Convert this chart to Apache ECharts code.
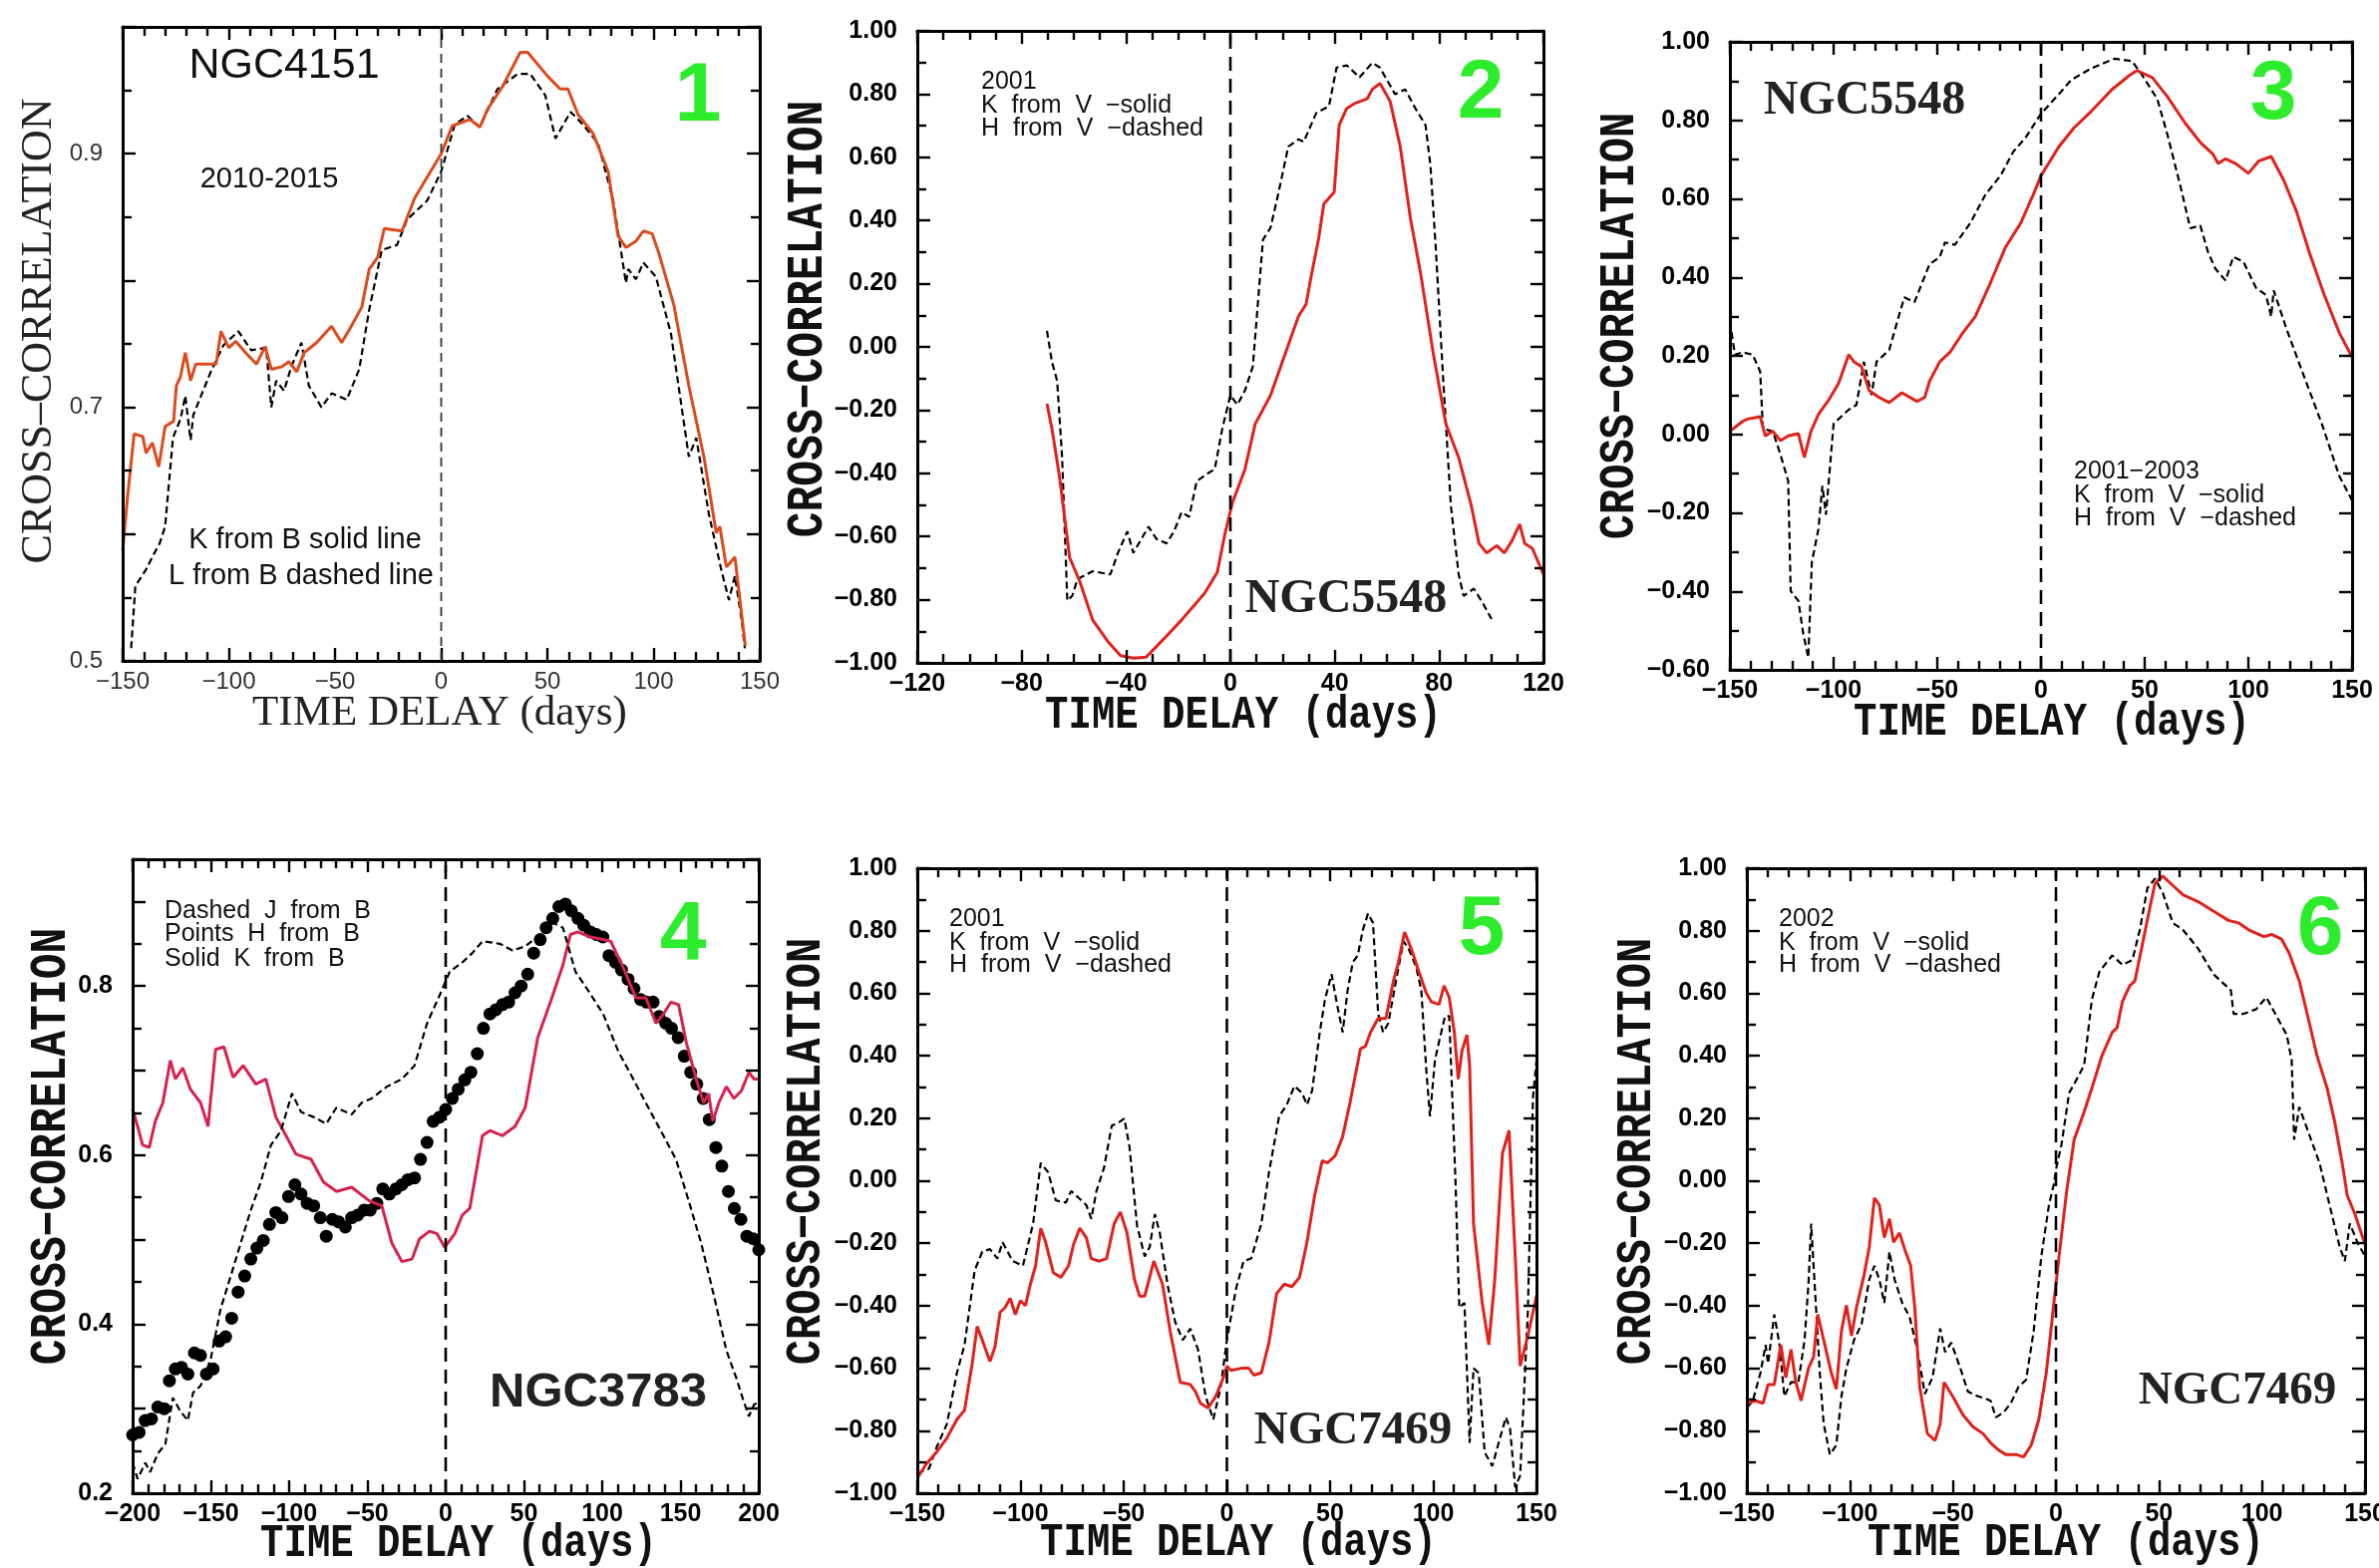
<!DOCTYPE html>
<html>
<head>
<meta charset="utf-8">
<script src="https://cdn.jsdelivr.net/npm/echarts@6/dist/echarts.min.js"></script>
<style>
  html, body { margin: 0; padding: 0; background: #fff; }
  .layer { position: absolute; left: 0; top: 0; width: 2386px; height: 1573px; }
</style>
</head>
<body>
<div id="curves" class="layer"></div>
<div id="frames" class="layer"></div>
<div id="texts" class="layer"></div>
<script>
// ---- data: [time delay (days), cross-correlation] ----

// 1: NGC4151 2010-2015, K from B (solid), L from B (dashed)
const p1K = [[-150,0.587],[-147.6,0.631],[-144.6,0.679],[-140.5,0.677],[-139,0.664],[-136,0.672],[-133,0.653],[-130,0.685],[-126,0.689],[-124.7,0.717],[-122.8,0.724],[-120.5,0.743],[-118,0.721],[-115.6,0.734],[-106,0.734],[-103.7,0.76],[-100,0.747],[-96.7,0.752],[-92,0.743],[-87,0.734],[-82.9,0.748],[-80,0.73],[-75,0.732],[-71.7,0.736],[-68,0.728],[-64.6,0.743],[-58.7,0.751],[-51.6,0.764],[-46.9,0.751],[-43,0.762],[-37.4,0.779],[-33.9,0.809],[-30,0.818],[-26.8,0.841],[-18.5,0.839],[-12.5,0.865],[-4.3,0.888],[0,0.9],[5.2,0.922],[13.5,0.927],[18.2,0.921],[21.8,0.935],[28.9,0.953],[37.2,0.98],[40.7,0.98],[50.2,0.961],[56,0.951],[59.7,0.951],[64.4,0.931],[71.5,0.916],[78.6,0.886],[83.3,0.835],[87,0.826],[91.7,0.831],[95.2,0.839],[99.3,0.837],[102.4,0.822],[109.5,0.781],[116.6,0.717],[123.7,0.661],[129.5,0.601],[131.2,0.606],[134.3,0.574],[138.3,0.582],[140.1,0.556],[143.2,0.512]];
const p1L = [[-146,0.51],[-144,0.559],[-139,0.572],[-136,0.582],[-132.5,0.593],[-130,0.606],[-126.3,0.676],[-122.7,0.691],[-120.5,0.709],[-118,0.674],[-116.7,0.694],[-108.5,0.728],[-102.5,0.749],[-95.5,0.76],[-89.5,0.745],[-82.4,0.747],[-80,0.7],[-77.7,0.721],[-74,0.713],[-70.6,0.732],[-65.8,0.751],[-62.3,0.717],[-56.4,0.7],[-51.6,0.711],[-44.5,0.706],[-38.6,0.73],[-33.9,0.777],[-28,0.824],[-20.8,0.828],[-16.1,0.848],[-6.6,0.863],[0,0.886],[6.4,0.923],[12.3,0.93],[18.2,0.921],[26.5,0.951],[36,0.963],[41.9,0.963],[49,0.946],[53.8,0.912],[60.9,0.933],[66.8,0.923],[73.9,0.908],[81,0.863],[87,0.798],[88.1,0.809],[91.7,0.801],[95.2,0.814],[101.1,0.803],[108.2,0.758],[116.6,0.661],[120.1,0.676],[126,0.616],[132,0.571],[135.5,0.548],[138.3,0.567],[141.4,0.533],[143,0.51]];

// 2: NGC5548 2001, K from V (solid), H from V (dashed)
const p2K = [[-70.3,-0.18],[-68.4,-0.259],[-65.5,-0.41],[-61.6,-0.667],[-57.7,-0.743],[-52.8,-0.864],[-47,-0.932],[-42.1,-0.977],[-37.2,-0.985],[-32.3,-0.982],[-25.5,-0.924],[-18.7,-0.864],[-9.9,-0.78],[-5,-0.713],[-2.1,-0.592],[0.8,-0.493],[5.6,-0.387],[9.5,-0.244],[15.4,-0.153],[21.2,-0.017],[26.1,0.097],[29,0.135],[31,0.225],[33.9,0.346],[35.8,0.452],[39.8,0.49],[41.7,0.702],[44.6,0.755],[47.5,0.77],[52.4,0.785],[54.4,0.815],[57.3,0.834],[61.2,0.778],[65.1,0.634],[69,0.407],[72.9,0.233],[77.7,-0.017],[82.6,-0.244],[87.5,-0.35],[92.3,-0.501],[95.3,-0.622],[98.2,-0.652],[102.1,-0.629],[105,-0.652],[107.9,-0.614],[110.9,-0.561],[112.8,-0.622],[115.7,-0.637],[120,-0.72]];
const p2H = [[-70.3,0.051],[-68.4,-0.047],[-66.4,-0.107],[-64.5,-0.349],[-62.5,-0.803],[-60.6,-0.788],[-58.6,-0.735],[-52.8,-0.71],[-46,-0.72],[-43.1,-0.652],[-39.5,-0.584],[-37.2,-0.652],[-31.4,-0.569],[-28.4,-0.607],[-24.5,-0.622],[-21.6,-0.584],[-18.7,-0.523],[-15.8,-0.538],[-12.9,-0.425],[-9,-0.402],[-6,-0.387],[-3.1,-0.259],[0,-0.153],[2.7,-0.183],[5.6,-0.138],[8.6,-0.062],[12.5,0.339],[15.4,0.377],[18.3,0.483],[22.2,0.634],[26.1,0.657],[28.1,0.649],[32.9,0.74],[37.8,0.762],[40.7,0.884],[44.6,0.891],[49.5,0.853],[54.4,0.899],[57.3,0.884],[63.1,0.8],[67,0.815],[70.9,0.755],[74.8,0.702],[76.7,0.573],[78.7,0.316],[81.6,-0.107],[84.5,-0.501],[87.5,-0.72],[89.4,-0.788],[93.3,-0.765],[96.2,-0.803],[100.1,-0.861]];

// 3: NGC5548 2001-2003
const p3K = [[-150,0.008],[-143.9,0.033],[-141.5,0.039],[-135.4,0.045],[-132.9,-0.004],[-129.3,0.008],[-125.6,-0.016],[-121.9,-0.004],[-117,0.002],[-114.1,-0.059],[-110.9,0.008],[-107.3,0.051],[-102.4,0.087],[-97.6,0.13],[-92.7,0.203],[-90.2,0.185],[-86.6,0.173],[-82.9,0.112],[-78,0.094],[-73.2,0.081],[-67.1,0.106],[-59.8,0.084],[-56.1,0.094],[-53.7,0.136],[-48.8,0.185],[-43.9,0.209],[-37.8,0.258],[-31.7,0.3],[-24.4,0.386],[-17.1,0.477],[-9.8,0.538],[-3.7,0.611],[0,0.659],[8.5,0.732],[15.9,0.781],[24.4,0.824],[34.1,0.878],[42.7,0.915],[46.3,0.927],[53.7,0.909],[61,0.86],[69.5,0.793],[76.8,0.744],[82.9,0.714],[85.4,0.69],[89,0.702],[93.9,0.69],[100,0.665],[104.9,0.696],[111,0.708],[117.1,0.647],[123.2,0.568],[129.3,0.465],[136.6,0.355],[143.9,0.258],[150,0.197]];
const p3H = [[-150,0.288],[-147.6,0.203],[-143.9,0.209],[-139,0.203],[-135.4,0.16],[-134.1,0.014],[-129.3,0.008],[-125.6,-0.052],[-121.9,-0.119],[-120.7,-0.399],[-117,-0.424],[-114.6,-0.509],[-112.2,-0.569],[-110.5,-0.326],[-107.3,-0.241],[-105.4,-0.131],[-103.7,-0.205],[-100,0.027],[-97.6,0.039],[-92.7,0.063],[-89,0.075],[-85.4,0.185],[-81.7,0.1],[-79.3,0.185],[-73.2,0.215],[-68.3,0.306],[-65.9,0.349],[-61,0.337],[-53.7,0.434],[-48.8,0.452],[-46.3,0.489],[-41.5,0.483],[-34.1,0.538],[-26.8,0.611],[-19.5,0.659],[-13.4,0.72],[-7.3,0.757],[0,0.817],[8.5,0.866],[14.6,0.903],[24.4,0.933],[35.4,0.957],[43.9,0.951],[48.8,0.915],[56.1,0.854],[61,0.763],[67.1,0.635],[72,0.525],[76.8,0.532],[80.5,0.465],[84.1,0.422],[89,0.392],[92.7,0.452],[97.6,0.44],[103.7,0.373],[108.5,0.355],[111,0.3],[112.2,0.367],[118.3,0.27],[126.8,0.148],[135.4,0.027],[143.9,-0.107],[150,-0.168]];

// 4: NGC3783, K from B (solid), J from B (dashed), H from B (points)
const p4K = [[-200,0.654],[-196.8,0.634],[-193.6,0.612],[-189.4,0.609],[-185.5,0.64],[-180.7,0.662],[-175.9,0.712],[-172.7,0.69],[-167.9,0.703],[-163.1,0.678],[-156.6,0.662],[-151.8,0.634],[-147,0.725],[-141.6,0.728],[-135.8,0.692],[-129.4,0.706],[-121.3,0.684],[-114.9,0.69],[-108.5,0.645],[-102,0.623],[-95.6,0.601],[-86,0.595],[-78,0.568],[-69.7,0.557],[-60.1,0.562],[-48.8,0.546],[-40.8,0.54],[-34.4,0.496],[-28,0.474],[-21.5,0.477],[-16.7,0.501],[-10.3,0.51],[-5.5,0.507],[-0.6,0.491],[5.8,0.507],[10.6,0.529],[15.4,0.537],[23.5,0.623],[28.3,0.629],[36.3,0.623],[44.3,0.634],[50.8,0.656],[58.8,0.739],[68.4,0.789],[74.9,0.825],[79.7,0.861],[84.5,0.864],[92.5,0.858],[100.6,0.855],[105.4,0.853],[113.4,0.822],[121.5,0.786],[127.9,0.786],[134.3,0.756],[139.1,0.767],[143.9,0.781],[148.8,0.778],[153.6,0.734],[160,0.69],[164.8,0.662],[168,0.673],[170.6,0.64],[174.5,0.662],[179.3,0.681],[184.1,0.667],[188.9,0.676],[193.7,0.698],[197,0.69],[200,0.69]];
const p4J = [[-200,0.236],[-196.8,0.217],[-191.9,0.236],[-188.8,0.225],[-183.9,0.247],[-179.1,0.258],[-174.3,0.313],[-169.5,0.297],[-164.7,0.286],[-161.4,0.319],[-156.6,0.327],[-150.2,0.358],[-143.8,0.418],[-137.3,0.457],[-130.9,0.496],[-124.5,0.535],[-118.1,0.568],[-111.6,0.612],[-105.2,0.629],[-98.2,0.673],[-92.4,0.651],[-84.3,0.645],[-76.3,0.637],[-69.9,0.656],[-60.1,0.648],[-53.7,0.662],[-47.3,0.667],[-37.6,0.681],[-28,0.69],[-19.9,0.706],[-11.9,0.756],[-3.9,0.789],[2.6,0.817],[10.6,0.828],[17,0.839],[23.5,0.853],[34.7,0.85],[42.7,0.842],[50.8,0.847],[60.4,0.861],[68.4,0.875],[74.9,0.869],[82.9,0.817],[90.9,0.795],[100.6,0.767],[110.2,0.723],[119.8,0.69],[129.5,0.656],[139.1,0.623],[147.1,0.595],[155.2,0.546],[163.2,0.496],[171.2,0.435],[179.3,0.369],[185.7,0.336],[190.5,0.308],[193.7,0.291],[197,0.305],[200,0.308]];
const p4H = [[-200,0.269],[-195.8,0.272],[-192,0.286],[-188,0.288],[-183.9,0.302],[-179.8,0.3],[-176.5,0.333],[-172.7,0.347],[-168.8,0.349],[-164.7,0.341],[-160.5,0.366],[-156.6,0.363],[-152.8,0.341],[-148.6,0.347],[-144.7,0.38],[-140.6,0.385],[-136.7,0.407],[-132.6,0.438],[-128.4,0.457],[-124.5,0.477],[-120.6,0.49],[-116.5,0.499],[-112.6,0.518],[-108.5,0.532],[-104.6,0.526],[-100.4,0.551],[-96.3,0.565],[-92.4,0.554],[-88.5,0.543],[-84.3,0.54],[-80.1,0.526],[-76.3,0.504],[-72.4,0.524],[-68.3,0.521],[-64.1,0.515],[-60.1,0.526],[-56.2,0.529],[-52.1,0.535],[-48.2,0.535],[-44,0.543],[-40.2,0.56],[-36,0.554],[-31.8,0.56],[-28,0.565],[-24.1,0.571],[-19.9,0.573],[-16.1,0.595],[-11.9,0.615],[-8,0.64],[-3.9,0.645],[0,0.654],[4.2,0.667],[8,0.678],[12.2,0.689],[16.1,0.698],[20.2,0.72],[24.1,0.75],[28.3,0.767],[32.1,0.772],[36.3,0.778],[40.2,0.781],[44.3,0.792],[48.2,0.8],[52.4,0.814],[56.2,0.839],[60.4,0.855],[64.2,0.869],[68.4,0.88],[72.3,0.894],[76.5,0.897],[80.3,0.889],[84.5,0.88],[88.2,0.872],[92.5,0.864],[96.3,0.861],[100.4,0.858],[104.3,0.836],[108.5,0.828],[112.3,0.819],[116.5,0.808],[120.3,0.797],[124.5,0.784],[128.3,0.781],[132.5,0.781],[136.3,0.764],[140.5,0.756],[144.3,0.75],[148.5,0.739],[152.4,0.717],[156.5,0.698],[160.4,0.684],[164.5,0.667],[168.4,0.642],[172.6,0.609],[176.4,0.587],[180.6,0.557],[184.4,0.537],[188.6,0.524],[192.4,0.504],[196.5,0.501],[200,0.488]];

// 5: NGC7469 2001
const p5K = [[-150,-0.951],[-145.6,-0.906],[-140.7,-0.869],[-135.7,-0.824],[-130.8,-0.764],[-127.1,-0.734],[-123.4,-0.585],[-121,-0.466],[-118.5,-0.51],[-114.8,-0.578],[-112.4,-0.533],[-109.9,-0.421],[-107.5,-0.406],[-105,-0.376],[-102.5,-0.428],[-100.1,-0.384],[-97.6,-0.399],[-95.2,-0.331],[-92.7,-0.272],[-90.2,-0.152],[-87.8,-0.197],[-84.1,-0.294],[-80.4,-0.309],[-76.7,-0.272],[-74.3,-0.204],[-71.3,-0.152],[-68.1,-0.182],[-65.7,-0.249],[-62,-0.257],[-58.3,-0.249],[-54.6,-0.137],[-51.6,-0.1],[-48.4,-0.167],[-44.8,-0.316],[-42.3,-0.369],[-39.8,-0.369],[-35.4,-0.257],[-31.2,-0.331],[-27.5,-0.481],[-22.6,-0.645],[-17.7,-0.652],[-15.2,-0.675],[-12.8,-0.712],[-9.1,-0.727],[-5.4,-0.69],[-1.7,-0.63],[0,-0.593],[2,-0.607],[6.9,-0.6],[10.6,-0.6],[13,-0.622],[16.7,-0.615],[20.4,-0.518],[24.1,-0.361],[27.8,-0.331],[31.5,-0.339],[35.2,-0.309],[38.8,-0.197],[42.5,-0.048],[46.2,0.064],[48.7,0.057],[52.4,0.079],[56,0.139],[59.7,0.251],[64.7,0.422],[67.1,0.43],[69.6,0.475],[73.3,0.519],[77,0.519],[80.7,0.639],[83.1,0.699],[86.1,0.796],[89.3,0.743],[93,0.669],[96.6,0.601],[99.1,0.572],[102.8,0.564],[105.2,0.624],[107.7,0.587],[110.2,0.475],[112.1,0.325],[113.9,0.415],[116.3,0.467],[117.6,0.37],[119.5,-0.137],[123.7,-0.391],[126.9,-0.525],[129.8,-0.316],[133.5,0.087],[136.7,0.161],[139.7,-0.242],[142.1,-0.593],[145.8,-0.496],[148.3,-0.421],[150,-0.369]];
const p5H = [[-150,-0.936],[-144.3,-0.921],[-140.7,-0.854],[-135.7,-0.779],[-130.8,-0.615],[-127.1,-0.525],[-122.2,-0.287],[-118.5,-0.227],[-114.8,-0.219],[-111.2,-0.249],[-108.7,-0.197],[-103.8,-0.257],[-98.8,-0.272],[-93.9,-0.137],[-90.2,0.057],[-86.6,0.027],[-82.9,-0.063],[-78,-0.07],[-75.5,-0.033],[-71.8,-0.055],[-68.1,-0.078],[-65.7,-0.122],[-63.2,-0.033],[-59.5,0.042],[-55.8,0.176],[-52.1,0.188],[-49.7,0.199],[-47.2,0.109],[-43.5,-0.145],[-39.8,-0.242],[-37.4,-0.212],[-34.9,-0.107],[-32.5,-0.167],[-28.8,-0.331],[-25.1,-0.451],[-21.4,-0.51],[-17.7,-0.473],[-14,-0.54],[-10.3,-0.69],[-6.6,-0.764],[-3,-0.66],[0,-0.51],[4.4,-0.346],[8.1,-0.257],[11.8,-0.249],[16.7,-0.137],[20.4,0.027],[25.3,0.206],[29,0.243],[32.7,0.303],[36.4,0.281],[38.8,0.243],[41.3,0.288],[45,0.475],[47.5,0.579],[50.7,0.661],[53.6,0.557],[56.1,0.475],[58.5,0.609],[61,0.699],[63.4,0.721],[65.9,0.803],[68.4,0.855],[70.8,0.825],[73.3,0.534],[75.7,0.475],[78.2,0.504],[81.9,0.639],[85.6,0.766],[88,0.743],[91.7,0.684],[94.2,0.609],[96.6,0.355],[98.4,0.206],[100.8,0.385],[102.8,0.445],[105.7,0.527],[107.7,0.527],[110.7,0.012],[112.6,-0.406],[115.1,-0.391],[117.6,-0.839],[119.5,-0.6],[122,-0.615],[124.9,-0.869],[128.6,-0.913],[132.3,-0.824],[135.2,-0.757],[137.2,-0.794],[139.7,-0.981],[142.1,-0.943],[145.8,-0.421],[148.3,0.266],[150,0.385]];

// 6: NGC7469 2002
const p6K = [[-150,-0.712],[-145.8,-0.704],[-142.1,-0.712],[-139.7,-0.652],[-136.7,-0.652],[-133.5,-0.525],[-131.1,-0.63],[-128.6,-0.54],[-126.2,-0.645],[-123.7,-0.704],[-120.1,-0.6],[-117.6,-0.563],[-115.6,-0.428],[-112.7,-0.51],[-109,-0.615],[-106.6,-0.667],[-104.1,-0.481],[-101.7,-0.399],[-99.2,-0.496],[-96.8,-0.406],[-93.1,-0.301],[-90.6,-0.212],[-88.1,-0.055],[-85.7,-0.078],[-83.3,-0.182],[-80.8,-0.122],[-78.8,-0.197],[-75.9,-0.167],[-73.4,-0.219],[-70.5,-0.272],[-68.5,-0.406],[-66.1,-0.66],[-62.4,-0.809],[-58.7,-0.831],[-56.2,-0.779],[-54.3,-0.645],[-50.1,-0.69],[-45.2,-0.749],[-40.3,-0.787],[-35.4,-0.809],[-31.7,-0.839],[-28,-0.861],[-24.3,-0.876],[-19.4,-0.876],[-15.7,-0.884],[-12,-0.846],[-8.3,-0.764],[-4.7,-0.615],[-1,-0.391],[1.5,-0.242],[5.2,-0.033],[8.8,0.131],[13.7,0.221],[17.4,0.296],[22.3,0.4],[27.3,0.475],[29.7,0.49],[32.2,0.572],[35.8,0.624],[38.3,0.639],[42,0.758],[45.7,0.878],[48.1,0.952],[51.8,0.975],[56.7,0.945],[61.6,0.915],[69,0.893],[76.4,0.863],[83.7,0.833],[88.6,0.825],[93.5,0.803],[100.9,0.781],[104.6,0.788],[109.5,0.773],[113.2,0.728],[118.1,0.639],[123,0.504],[126.7,0.4],[131.6,0.296],[135.2,0.191],[138.9,0.057],[141.4,-0.048],[145.1,-0.107],[150,-0.204]];
const p6H = [[-150,-0.727],[-147.1,-0.704],[-143.4,-0.615],[-140.9,-0.525],[-139.7,-0.585],[-136.7,-0.428],[-134.3,-0.518],[-131.8,-0.69],[-128.6,-0.645],[-125,-0.645],[-122,-0.51],[-120.1,-0.331],[-118.8,-0.137],[-117.1,-0.331],[-114.6,-0.615],[-112.7,-0.779],[-109.7,-0.876],[-106.6,-0.846],[-104.1,-0.69],[-101.7,-0.6],[-98,-0.51],[-94.3,-0.458],[-90.6,-0.316],[-88.1,-0.272],[-85.7,-0.316],[-83.3,-0.391],[-80.8,-0.227],[-78.3,-0.316],[-74.6,-0.391],[-71,-0.436],[-67.3,-0.54],[-63.6,-0.682],[-59.9,-0.63],[-56.2,-0.473],[-53.8,-0.548],[-50.8,-0.518],[-46.4,-0.6],[-42.7,-0.675],[-37.8,-0.69],[-34.1,-0.697],[-31.7,-0.704],[-29.2,-0.757],[-25.5,-0.742],[-21.9,-0.712],[-18.2,-0.66],[-14.5,-0.637],[-10.8,-0.481],[-7.1,-0.242],[-3.4,-0.078],[-1,-0.01],[0.2,0.042],[2.7,0.116],[6.4,0.281],[10.1,0.325],[13.7,0.37],[17.4,0.579],[21.1,0.669],[27.3,0.721],[32.2,0.691],[37.1,0.706],[40.7,0.803],[44.4,0.937],[48.1,0.967],[51.8,0.922],[56.7,0.825],[61.6,0.803],[69,0.743],[76.4,0.661],[82.5,0.624],[84.9,0.609],[86.2,0.534],[91.1,0.534],[97.2,0.549],[102.1,0.587],[107,0.527],[112,0.467],[114.4,0.385],[115.6,0.131],[118.1,0.236],[123,0.146],[127.9,0.057],[132.8,-0.078],[137.7,-0.212],[140.2,-0.257],[142.6,-0.137],[146.3,-0.197],[150,-0.242]];

// zero-lag reference line drawn in every panel
const zeroLag = 0;

// axis ranges [min, max, step] and labelled ticks per panel
const xRanges = [[-150,150,50],[-120,120,40],[-150,150,50],[-200,200,50],[-150,150,50],[-150,150,50]];
const yRanges = [[0.5,1.0,0.1],[-1,1,0.2],[-0.6,1,0.2],[0.2,0.95,0.1],[-1,1,0.2],[-1,1,0.2]];
const yTickLabels = [
  [0.5,0.7,0.9],
  [-1,-0.8,-0.6,-0.4,-0.2,0,0.2,0.4,0.6,0.8,1],
  [-0.6,-0.4,-0.2,0,0.2,0.4,0.6,0.8,1],
  [0.2,0.4,0.6,0.8],
  [-1,-0.8,-0.6,-0.4,-0.2,0,0.2,0.4,0.6,0.8,1],
  [-1,-0.8,-0.6,-0.4,-0.2,0,0.2,0.4,0.6,0.8,1]
];
const yDigits = [1,2,2,1,2,2];

// layout
const grids = [
  { left: 123, top: 27, width: 639, height: 636 },
  { left: 920, top: 31, width: 628, height: 634 },
  { left: 1735, top: 42, width: 624, height: 630 },
  { left: 133, top: 862, width: 628, height: 636 },
  { left: 920, top: 871, width: 621, height: 627 },
  { left: 1752, top: 871, width: 620, height: 627 }
];
const xMinor = [5, 4, 5, 5, 5, 5];

const SANS = 'Liberation Sans';
const SERIF = 'Liberation Serif';
const MONO = 'Liberation Mono';
const GREEN = '#2cec2c';
const RED = '#e0211c';

const MINUS = '\u2212';
const signed = (v, d) => (v < -1e-9 ? MINUS : '') + Math.abs(v).toFixed(d);

function labelStyle(i) {
  return i === 0
    ? { fontFamily: SANS, fontSize: 24, color: '#333' }
    : { fontFamily: SANS, fontSize: 25, fontWeight: 'bold', color: '#000' };
}

// ---------- layer 1: the curves (axes hidden, same scales) ----------
function hiddenAxis(i, range) {
  return { type: 'value', gridIndex: i, min: range[0], max: range[1], show: false };
}
function solid(i, data, color) {
  return { type: 'line', xAxisIndex: i, yAxisIndex: i, data: data, showSymbol: false, symbol: 'none',
    lineStyle: { color: color, width: 3 } };
}
function dashed(i, data) {
  return { type: 'line', xAxisIndex: i, yAxisIndex: i, data: data, showSymbol: false, symbol: 'none',
    lineStyle: { color: '#000', width: 2.2, type: [7, 4] } };
}

const curveChart = echarts.init(document.getElementById('curves'));
curveChart.setOption({
  animation: false,
  grid: grids.map(g => Object.assign({ outerBoundsMode: 'none' }, g)),
  xAxis: grids.map((g, i) => hiddenAxis(i, xRanges[i])),
  yAxis: grids.map((g, i) => hiddenAxis(i, yRanges[i])),
  series: [
    dashed(0, p1L), solid(0, p1K, '#dc4a1e'),
    dashed(1, p2H), solid(1, p2K, RED),
    dashed(2, p3H), solid(2, p3K, RED),
    solid(3, p4K, '#d9214f'), dashed(3, p4J),
    { type: 'scatter', xAxisIndex: 3, yAxisIndex: 3, data: p4H, symbol: 'circle', symbolSize: 13,
      itemStyle: { color: '#000', opacity: 1 } },
    dashed(4, p5H), solid(4, p5K, RED),
    dashed(5, p6H), solid(5, p6K, RED)
  ]
});

// ---------- layer 2: frames, ticks, tick labels and the zero-lag line ----------
function frameAxis(i, pos, range, minor) {
  return {
    type: 'value', gridIndex: i, position: pos,
    min: range[0], max: range[1], interval: range[2],
    axisLine: { show: true, onZero: false, lineStyle: { color: '#000', width: 3 } },
    axisTick: { show: true, inside: true, length: 13, lineStyle: { color: '#000', width: 2.4 } },
    minorTick: { show: true, splitNumber: minor, length: 9, lineStyle: { color: '#000', width: 2.4 } },
    splitLine: { show: false },
    axisLabel: { show: false }
  };
}
const frameX = [], frameY = [], zeroLines = [];
grids.forEach((g, i) => {
  const xb = frameAxis(i, 'bottom', xRanges[i], xMinor[i]);
  xb.axisLabel = Object.assign({ show: true, margin: 9, formatter: v => signed(v, 0) }, labelStyle(i));
  frameX.push(xb, frameAxis(i, 'top', xRanges[i], xMinor[i]));
  const yl = frameAxis(i, 'left', yRanges[i], 2);
  yl.axisLabel = Object.assign({
    show: true, margin: 20,
    formatter: v => yTickLabels[i].some(l => Math.abs(l - v) < 1e-6) ? signed(v, yDigits[i]) : ''
  }, labelStyle(i));
  frameY.push(yl, frameAxis(i, 'right', yRanges[i], 2));
  zeroLines.push({
    type: 'line', xAxisIndex: 2 * i, yAxisIndex: 2 * i, showSymbol: false, symbol: 'none',
    data: [[zeroLag, yRanges[i][0]], [zeroLag, yRanges[i][1]]],
    lineStyle: i === 0 ? { color: '#333', width: 1.8, type: [9, 6] } : { color: '#000', width: 2.6, type: [14, 8] }
  });
});
const frameChart = echarts.init(document.getElementById('frames'));
frameChart.setOption({
  animation: false,
  grid: grids.map(g => Object.assign({ outerBoundsMode: 'none' }, g)),
  xAxis: frameX,
  yAxis: frameY,
  series: zeroLines
});

// ---------- layer 3: titles and notes ----------
function txt(x, y, text, style, extra) {
  return Object.assign({
    type: 'text', x: x, y: y, silent: true,
    style: Object.assign({ text: text, textAlign: 'center', textVerticalAlign: 'middle', fill: '#111' }, style)
  }, extra || {});
}
const noteStyle = { fontFamily: SANS, fontSize: 25, textAlign: 'left', fill: '#111' };
const panelNum = () => ({ fontFamily: SANS, fontSize: 84, fontWeight: 'bold', fill: GREEN });
const monoTitle = s => ({ fontFamily: MONO, fontSize: s, fontWeight: 'bold', fill: '#111' });
const kNote = 'K  from  V  ' + MINUS + 'solid';
const hNote = 'H  from  V  ' + MINUS + 'dashed';

const graphic = [
  // panel 1
  txt(285, 66, 'NGC4151', { fontFamily: SANS, fontSize: 43 }),
  txt(270, 180, '2010-2015', { fontFamily: SANS, fontSize: 29 }),
  txt(306, 542, 'K from B solid line', { fontFamily: SANS, fontSize: 29 }),
  txt(302, 578, 'L from B dashed line', { fontFamily: SANS, fontSize: 29 }),
  txt(700, 98, '1', panelNum()),
  txt(39, 332, 'CROSS\u2013CORRELATION', { fontFamily: SERIF, fontSize: 44, fill: '#222' }, { rotation: Math.PI / 2 }),
  txt(441, 716, 'TIME DELAY (days)', { fontFamily: SERIF, fontSize: 43, fill: '#222' }),
  // panel 2
  txt(984, 82, '2001', noteStyle), txt(984, 106, kNote, noteStyle), txt(984, 129, hNote, noteStyle),
  txt(1350, 602, 'NGC5548', { fontFamily: SERIF, fontSize: 48, fontWeight: 'bold', fill: '#222' }),
  txt(1485, 95, '2', panelNum()),
  txt(811, 320, 'CROSS' + MINUS + 'CORRELATION', monoTitle(43), { rotation: Math.PI / 2, scaleY: 1.2 }),
  txt(1247, 718, 'TIME DELAY (days)', monoTitle(39), { scaleY: 1.2 }),
  // panel 3
  txt(1870, 102, 'NGC5548', { fontFamily: SERIF, fontSize: 48, fontWeight: 'bold', fill: '#222' }),
  txt(2280, 96, '3', panelNum()),
  txt(2080, 473, '2001' + MINUS + '2003', noteStyle), txt(2080, 497, kNote, noteStyle), txt(2080, 520, hNote, noteStyle),
  txt(1625, 327, 'CROSS' + MINUS + 'CORRELATION', monoTitle(42), { rotation: Math.PI / 2, scaleY: 1.2 }),
  txt(2058, 725, 'TIME DELAY (days)', monoTitle(39), { scaleY: 1.2 }),
  // panel 4
  txt(165, 914, 'Dashed  J  from  B', noteStyle),
  txt(165, 937, 'Points  H  from  B', noteStyle),
  txt(165, 962, 'Solid  K  from  B', noteStyle),
  txt(600, 1397, 'NGC3783', { fontFamily: SANS, fontSize: 49, fontWeight: 'bold', fill: '#222' }),
  txt(685, 940, '4', panelNum()),
  txt(52, 1150, 'CROSS' + MINUS + 'CORRELATION', monoTitle(43), { rotation: Math.PI / 2, scaleY: 1.2 }),
  txt(460, 1549, 'TIME DELAY (days)', monoTitle(39), { scaleY: 1.2 }),
  // panel 5
  txt(952, 922, '2001', noteStyle), txt(952, 946, kNote, noteStyle), txt(952, 968, hNote, noteStyle),
  txt(1357, 1436, 'NGC7469', { fontFamily: SERIF, fontSize: 47, fontWeight: 'bold', fill: '#222' }),
  txt(1486, 934, '5', panelNum()),
  txt(809, 1155, 'CROSS' + MINUS + 'CORRELATION', monoTitle(42), { rotation: Math.PI / 2, scaleY: 1.2 }),
  txt(1242, 1548, 'TIME DELAY (days)', monoTitle(39), { scaleY: 1.2 }),
  // panel 6
  txt(1784, 922, '2002', noteStyle), txt(1784, 946, kNote, noteStyle), txt(1784, 968, hNote, noteStyle),
  txt(2244, 1396, 'NGC7469', { fontFamily: SERIF, fontSize: 47, fontWeight: 'bold', fill: '#222' }),
  txt(2327, 934, '6', panelNum()),
  txt(1642, 1155, 'CROSS' + MINUS + 'CORRELATION', monoTitle(42), { rotation: Math.PI / 2, scaleY: 1.2 }),
  txt(2072, 1548, 'TIME DELAY (days)', monoTitle(39), { scaleY: 1.2 })
];
echarts.init(document.getElementById('texts')).setOption({ animation: false, graphic: graphic });
</script>
</body>
</html>
